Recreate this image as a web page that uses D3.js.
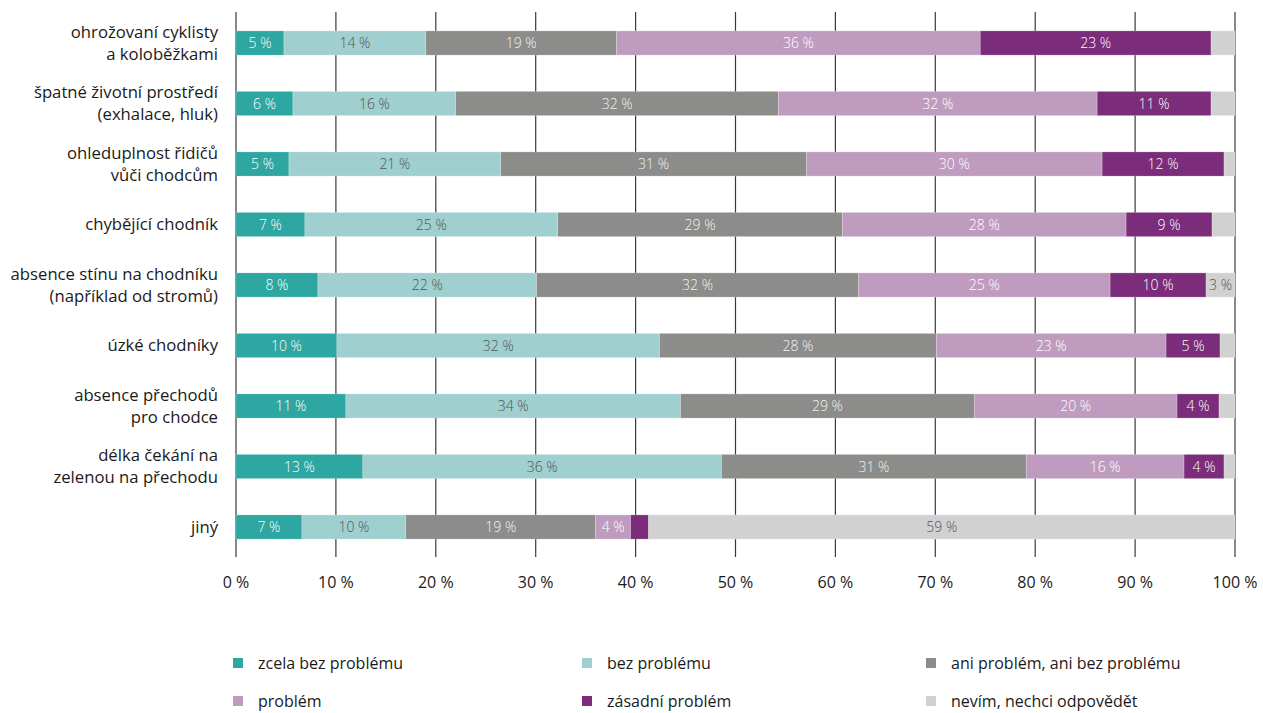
<!DOCTYPE html>
<html><head><meta charset="utf-8">
<script src="https://cdn.jsdelivr.net/npm/d3@7"></script>
<style>
body{margin:0;background:#fff;}
svg text{font-family:"Open Sans","Noto Sans",sans-serif;}
</style></head>
<body><svg id="c" width="1263" height="713"></svg>
<script>
const categories = [
  ["ohrožovaní cyklisty","a koloběžkami"],
  ["špatné životní prostředí","(exhalace, hluk)"],
  ["ohleduplnost řidičů","vůči chodcům"],
  ["chybějící chodník"],
  ["absence stínu na chodníku","(například od stromů)"],
  ["úzké chodníky"],
  ["absence přechodů","pro chodce"],
  ["délka čekání na","zelenou na přechodu"],
  ["jiný"]
];
const seriesNames = ["zcela bez problému","bez problému","ani problém, ani bez problému","problém","zásadní problém","nevím, nechci odpovědět"];
const zcelaBez  = [4.8, 5.7, 5.3, 6.9, 8.2, 10.1, 11.0, 12.7, 6.6];
const bez       = [14.2,16.3,21.2,25.3,21.9,32.3,33.5,35.9,10.4];
const ani       = [19.1,32.3,30.6,28.5,32.2,27.7,29.4,30.5,19.0];
const problem   = [36.4,31.9,29.6,28.4,25.2,23.0,20.3,15.8,3.5];
const zasadni   = [23.1,11.4,12.2,8.6,9.6,5.4,4.2,4.0,1.8];
const nevim     = [2.4,2.4,1.1,2.3,2.9,1.5,1.6,1.1,58.7];
const xTicks = [0,10,20,30,40,50,60,70,80,90,100];

const colors = ["#2ea6a1","#9fcfcf","#8c8c8a","#bf9cbf","#7b2c7b","#d1d1d1"];
const textColors = ["#ffffff","#555555","#f2f2f2","#ffffff","#ffffff","#555555"];

const svg = d3.select("#c");
const x = d3.scaleLinear().domain([0,100]).range([236,1235]);
const keys = categories.map((c,i)=>i);
const y = d3.scaleBand().domain(keys).range([12.75,557.25]).paddingInner(0.6).paddingOuter(0.3);

const rows = keys.map(i=>{
  const vals=[zcelaBez[i],bez[i],ani[i],problem[i],zasadni[i],nevim[i]];
  let acc=0; return vals.map((v,j)=>{const s={row:i,j,v,x0:acc,x1:acc+v}; acc+=v; return s;});
});

// gridlines
svg.append("g").selectAll("line").data(xTicks).join("line")
  .attr("x1",d=>x(d)).attr("x2",d=>x(d)).attr("y1",12).attr("y2",557)
  .attr("stroke","#3a3a3a").attr("stroke-width",1.2);

// bars
const g = svg.append("g");
rows.forEach(r=>{
  g.selectAll(null).data(r).join("rect")
    .attr("x",d=>x(d.x0)).attr("width",d=>Math.max(0,x(d.x1)-x(d.x0)))
    .attr("y",d=>y(d.row)).attr("height",y.bandwidth())
    .attr("fill",d=>colors[d.j]).attr("stroke","#ffffff").attr("stroke-opacity",0.35).attr("stroke-width",0.6);
  g.selectAll(null).data(r.filter(d=>Math.round(d.v)>=3)).join("text")
    .attr("x",d=>x((d.x0+d.x1)/2)).attr("y",d=>y(d.row)+y.bandwidth()/2)
    .attr("dy","0.36em").attr("text-anchor","middle")
    .attr("font-size",14).attr("font-weight",300)
    .attr("fill",d=>textColors[d.j])
    .text(d=>Math.round(d.v)+" %");
});

// category labels
const cl = svg.append("g");
categories.forEach((lines,i)=>{
  const cy = y(i)+y.bandwidth()/2;
  const t = cl.append("text").attr("text-anchor","end").attr("font-size",16.7).attr("fill","#1a1a1a");
  const n = lines.length;
  lines.forEach((ln,k)=>{
    t.append("tspan").attr("x",218).attr("y",cy + (k-(n-1)/2)*22).attr("dy","0.35em").text(ln);
  });
});

// x tick labels
svg.append("g").selectAll("text").data(xTicks).join("text")
  .attr("x",d=>x(d)).attr("y",582).attr("dy","0.35em").attr("text-anchor","middle")
  .attr("font-size",16).attr("fill","#1a1a1a").text(d=>d+" %");

// legend
const legX = [233,582,926], legY=[663,701];
seriesNames.forEach((nm,i)=>{
  const lx = legX[i%3], ly = legY[Math.floor(i/3)];
  svg.append("rect").attr("x",lx).attr("y",ly-5).attr("width",10).attr("height",10).attr("fill",colors[i]);
  svg.append("text").attr("x",lx+25).attr("y",ly).attr("dy","0.35em").attr("font-size",16)
    .attr("fill","#1a1a1a").text(nm);
});
</script></body></html>
